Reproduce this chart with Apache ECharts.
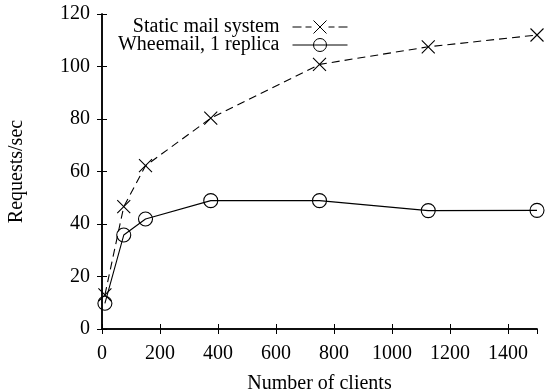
<!DOCTYPE html>
<html>
<head>
<meta charset="utf-8">
<script src="https://cdn.jsdelivr.net/npm/echarts@6/dist/echarts.min.js"></script>
<style>
  html, body { margin: 0; padding: 0; background: #fff; }
  #chart { width: 546px; height: 391px; }
</style>
</head>
<body>
<div id="chart"></div>
<script>
// number of clients
var clients = [10, 75, 150, 375, 750, 1125, 1500];
// requests/sec
var staticMail = [13, 46.6, 62.2, 80.3, 100.8, 107.5, 112];
var wheemail = [9.8, 35.8, 41.9, 48.9, 48.9, 45.1, 45.2];
var xTicks = [0, 200, 400, 600, 800, 1000, 1200, 1400];
var yTicks = [0, 20, 40, 60, 80, 100, 120];

var font = 'Liberation Serif';
var crossIcon = 'path://M0,0L10,10M10,0L0,10';
var circleIcon = 'path://M10,5A5,5,0,1,1,0,5A5,5,0,1,1,10,5Z';
// legend samples (line + marker), drawn in a 55x13 box
var crossKey = 'path://M0,6.5L9,6.5M13,6.5L19,6.5M21,0L34,13M34,0L21,13M36,6.5L42,6.5M46,6.5L55,6.5';
var circleKey = 'path://M0,6.5L55,6.5M34,6.5A6.5,6.5,0,1,1,21,6.5A6.5,6.5,0,1,1,34,6.5Z';

function pairs(xs, ys) {
    var out = [];
    for (var i = 0; i < xs.length; i++) {
        out.push([xs[i], ys[i]]);
    }
    return out;
}

var chart = echarts.init(document.getElementById('chart'), null, { renderer: 'canvas' });

var fs = 20;
var axisText = { fontFamily: font, fontSize: fs, color: '#000' };
var keyStyle = { color: 'rgba(0,0,0,0)', borderColor: '#000', borderWidth: 1 };

var option = {
    backgroundColor: '#ffffff',
    animation: false,
    textStyle: { fontFamily: font },
    grid: { left: 102, right: 9, top: 14, bottom: 62, containLabel: false, outerBoundsMode: 'none' },
    legend: {
        right: 198,
        top: 17,
        padding: 0,
        orient: 'vertical',
        align: 'right',
        itemWidth: 55,
        itemHeight: 13,
        itemGap: -2,
        textStyle: { fontFamily: font, fontSize: fs, color: '#000', padding: [0, 8, 0, 0] },
        data: [
            { name: 'Static mail system', icon: crossKey, itemStyle: keyStyle },
            { name: 'Wheemail, 1 replica', icon: circleKey, itemStyle: keyStyle }
        ]
    },
    xAxis: [{
        type: 'value',
        min: 0,
        max: 1500,
        interval: 200,
        name: 'Number of clients',
        nameLocation: 'middle',
        nameGap: 45,
        nameTextStyle: { fontFamily: font, fontSize: fs, color: '#000' },
        axisLine: { lineStyle: { color: '#000', width: 1.5 } },
        axisTick: { inside: true, length: 5, lineStyle: { color: '#000' } },
        axisLabel: Object.assign({
            margin: 15,
            showMaxLabel: false,
            formatter: function (v) { return xTicks.indexOf(v) >= 0 ? String(v) : ''; }
        }, axisText),
        splitLine: { show: false }
    }, {
        type: 'value',
        position: 'top',
        min: 0,
        max: 1500,
        interval: 200,
        axisLine: { show: true, lineStyle: { color: '#000', width: 1.5 } },
        axisTick: { inside: true, length: 5, lineStyle: { color: '#000' } },
        axisLabel: { show: false },
        splitLine: { show: false }
    }],
    yAxis: [{
        type: 'value',
        min: 0,
        max: 120,
        interval: 20,
        name: 'Requests/sec',
        nameLocation: 'middle',
        nameGap: 75,
        nameTextStyle: { fontFamily: font, fontSize: fs, color: '#000' },
        axisLine: { show: true, lineStyle: { color: '#000', width: 1.5 } },
        axisTick: { show: true, inside: true, length: 5, lineStyle: { color: '#000' } },
        axisLabel: Object.assign({
            margin: 12,
            formatter: function (v) { return yTicks.indexOf(v) >= 0 ? String(v) : ''; }
        }, axisText),
        splitLine: { show: false }
    }, {
        type: 'value',
        position: 'right',
        min: 0,
        max: 120,
        interval: 20,
        axisLine: { show: true, lineStyle: { color: '#000', width: 1.5 } },
        axisTick: { show: true, inside: true, length: 5, lineStyle: { color: '#000' } },
        axisLabel: { show: false },
        splitLine: { show: false }
    }],
    series: [{
        name: 'Static mail system',
        type: 'line',
        data: pairs(clients, staticMail),
        symbol: crossIcon,
        symbolSize: 13,
        showAllSymbol: true,
        lineStyle: { color: '#000', width: 1.1, type: [8, 5] },
        itemStyle: { color: 'rgba(0,0,0,0)', borderColor: '#000', borderWidth: 1.1 }
    }, {
        name: 'Wheemail, 1 replica',
        type: 'line',
        data: pairs(clients, wheemail),
        symbol: circleIcon,
        symbolSize: 14,
        showAllSymbol: true,
        lineStyle: { color: '#000', width: 1.1 },
        itemStyle: { color: 'rgba(0,0,0,0)', borderColor: '#000', borderWidth: 1.1 }
    }]
};

chart.setOption(option);
</script>
</body>
</html>
